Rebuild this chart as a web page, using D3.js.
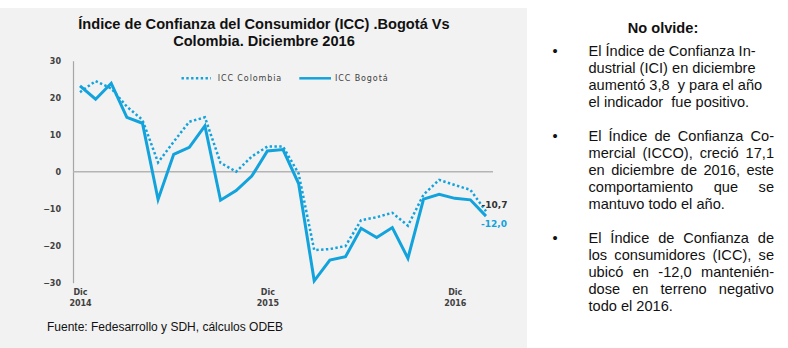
<!DOCTYPE html>
<html>
<head>
<meta charset="utf-8">
<script src="https://cdn.jsdelivr.net/npm/d3@7/dist/d3.min.js"></script>
<style>
  html, body { margin: 0; padding: 0; background: #ffffff; }
  svg { display: block; }
</style>
</head>
<body>
<script>
// ---------- DATA ----------
const months = ["Dic 2014","Ene 2015","Feb 2015","Mar 2015","Abr 2015","May 2015","Jun 2015","Jul 2015","Ago 2015","Sep 2015","Oct 2015","Nov 2015",
                "Dic 2015","Ene 2016","Feb 2016","Mar 2016","Abr 2016","May 2016","Jun 2016","Jul 2016","Ago 2016","Sep 2016","Oct 2016","Nov 2016",
                "Dic 2016","Ene 2017","Feb 2017"];
const iccBogota = [23.2, 19.6, 23.9, 14.7, 13.1, -7.5, 4.7, 6.6, 12.4, -7.7, -5.1, -1.2, 5.6, 6.0, -3.2,
                   -29.5, -23.9, -23.0, -15.3, -17.8, -15.1, -23.4, -7.4, -6.1, -7.2, -7.6, -12.0];
const iccColombia = [21.5, 24.5, 22.5, 17.6, 14.0, 2.5, 8.1, 13.5, 14.7, 2.4, 0.0, 4.1, 6.8, 6.8, -0.5,
                     -21.2, -20.9, -20.1, -13.1, -12.3, -11.1, -14.6, -6.2, -2.2, -3.6, -4.9, -10.7];
const yTicks = [-30, -20, -10, 0, 10, 20, 30];
const xTickCats = ["Dic 2014", "Dic 2015", "Dic 2016"];
const seriesNames = ["ICC Colombia", "ICC Bogotá"];
const endLabels = ["-10,7", "-12,0"];
const titleLines = ["Índice de Confianza del Consumidor (ICC) .Bogotá Vs", "Colombia. Diciembre 2016"];
const sourceText = "Fuente: Fedesarrollo y SDH, cálculos ODEB";
const noteTitle = "No olvide:";
const notes = [
  ["El Índice de Confianza In-", "dustrial (ICI) en diciembre", "aumentó 3,8  y para el año", "el indicador  fue positivo."],
  ["El Índice de Confianza Co-", "mercial (ICCO),  creció 17,1", "en diciembre de 2016, este", "comportamiento que se", "mantuvo todo el año."],
  ["El Índice de Confianza  de", "los consumidores (ICC), se", "ubicó en -12,0 mantenién-", "dose en terreno negativo", "todo el 2016."]
];

// ---------- SETUP ----------
const W = 788, H = 348;
const BLUE = "#12a2dc";
const svg = d3.select("body").append("svg").attr("width", W).attr("height", H);

svg.append("rect").attr("x", 0).attr("y", 8).attr("width", 527).attr("height", H - 8).attr("fill", "#f2f2f2");

const x = d3.scalePoint().domain(months).range([80, 486]);
const y = d3.scaleLinear().domain([-30, 30]).range([282.7, 60.7]);

// title
svg.append("g").selectAll("text").data(titleLines).join("text")
  .attr("x", 264).attr("y", (d, i) => 28.5 + i * 17)
  .attr("text-anchor", "middle")
  .style("font-family", "'Liberation Sans', Arial, sans-serif")
  .style("font-weight", "bold").style("font-size", "14.6px").attr("fill", "#111")
  .text(d => d);

// y axis
const yAxis = svg.append("g").attr("transform", "translate(73,0)")
  .call(d3.axisLeft(y).tickValues(yTicks).tickSize(0).tickPadding(12).tickFormat(d3.format("d")));
yAxis.select(".domain").attr("stroke", "#a6a6a6").attr("stroke-width", 1.2);
yAxis.selectAll("text")
  .style("font-family", "'DejaVu Sans', Verdana, sans-serif").style("font-size", "8px")
  .style("font-weight", "bold").attr("fill", "#404040");

// zero line
svg.append("line").attr("x1", 73).attr("x2", 493).attr("y1", y(0)).attr("y2", y(0))
  .attr("stroke", "#b4b4b4").attr("stroke-width", 1.5);

// x axis labels
const xAxis = svg.append("g").attr("transform", `translate(0,${y(-30)})`)
  .call(d3.axisBottom(x).tickValues(xTickCats).tickSize(0).tickPadding(0).tickFormat(() => ""));
xAxis.select(".domain").remove();
xAxis.selectAll(".tick").each(function(d) {
  const parts = d.split(" ");
  const g = d3.select(this);
  parts.forEach((p, i) => {
    g.append("text").attr("y", 12.5 + i * 10.5).attr("text-anchor", "middle")
      .style("font-family", "'DejaVu Sans', Verdana, sans-serif").style("font-size", "8px")
      .style("font-weight", "bold").attr("fill", "#404040").text(p);
  });
});

// lines
const line = d3.line().x((d, i) => x(months[i])).y(d => y(d));
svg.append("path").datum(iccColombia).attr("d", line).attr("fill", "none")
  .attr("stroke", BLUE).attr("stroke-width", 2.5).attr("stroke-dasharray", "2.4,2.4");
svg.append("path").datum(iccBogota).attr("d", line).attr("fill", "none")
  .attr("stroke", BLUE).attr("stroke-width", 3).attr("stroke-linejoin", "miter");

// legend
const legendFont = g => g.style("font-family", "'DejaVu Sans', Verdana, sans-serif")
  .style("font-size", "8px").style("letter-spacing", "0.9px").attr("fill", "#404040");
const lg = svg.append("g");
lg.append("line").attr("x1", 181.5).attr("x2", 211).attr("y1", 78.3).attr("y2", 78.3)
  .attr("stroke", BLUE).attr("stroke-width", 2.5).attr("stroke-dasharray", "2.4,2.4");
lg.append("text").attr("x", 217.7).attr("y", 81.2).text(seriesNames[0]).call(legendFont);
lg.append("line").attr("x1", 299.3).attr("x2", 331).attr("y1", 78.3).attr("y2", 78.3)
  .attr("stroke", BLUE).attr("stroke-width", 2.5);
lg.append("text").attr("x", 335).attr("y", 81.2).text(seriesNames[1]).call(legendFont);

// end labels
const lastCat = months[months.length - 1];
svg.append("text").attr("x", x(lastCat) - 4.5).attr("y", y(iccColombia[iccColombia.length - 1]) - 3.5)
  .style("font-family", "'DejaVu Sans', Verdana, sans-serif").style("font-size", "9px")
  .style("font-weight", "bold").attr("fill", "#333").text(endLabels[0]);
svg.append("text").attr("x", x(lastCat) - 5).attr("y", y(iccBogota[iccBogota.length - 1]) + 10.5)
  .style("font-family", "'DejaVu Sans', Verdana, sans-serif").style("font-size", "9px")
  .style("font-weight", "bold").attr("fill", BLUE).text(endLabels[1]);

// source
svg.append("text").attr("x", 47).attr("y", 330.5)
  .style("font-family", "'Liberation Sans', Arial, sans-serif").style("font-size", "12px")
  .attr("fill", "#111").text(sourceText);

// ---------- RIGHT NOTES ----------
const noteFont = "'Liberation Sans', Arial, sans-serif";
const noteSize = "14.6px";
svg.append("text").attr("x", 663).attr("y", 33).attr("text-anchor", "middle")
  .style("font-family", noteFont).style("font-weight", "bold").style("font-size", noteSize)
  .attr("fill", "#111").text(noteTitle);

const paraStart = [55.5, 141, 243];
const paraJustify = [false, true, true];
const LH = 17;
const textX = 588.5, textRight = 774;

function measure(str) {
  const t = svg.append("text").style("font-family", noteFont).style("font-size", noteSize)
    .style("white-space", "pre").text(str);
  const w = t.node().getComputedTextLength();
  t.remove();
  return w;
}

notes.forEach((lines, p) => {
  const y0 = paraStart[p];
  svg.append("text").attr("x", 555).attr("y", y0).attr("text-anchor", "middle")
    .style("font-family", noteFont).style("font-size", noteSize).attr("fill", "#111").text("•");
  lines.forEach((ln, i) => {
    const ly = y0 + i * LH;
    const isLast = i === lines.length - 1;
    if (paraJustify[p] && !isLast) {
      const words = ln.split(/\s+/);
      const widths = words.map(measure);
      const total = d3.sum(widths);
      const gap = (textRight - textX - total) / (words.length - 1);
      let cx = textX;
      const t = svg.append("text").attr("y", ly).style("font-family", noteFont)
        .style("font-size", noteSize).attr("fill", "#111");
      words.forEach((w, k) => {
        t.append("tspan").attr("x", cx).text(w);
        cx += widths[k] + gap;
      });
    } else {
      svg.append("text").attr("x", textX).attr("y", ly).style("font-family", noteFont)
        .style("font-size", noteSize).style("white-space", "pre").attr("fill", "#111").text(ln);
    }
  });
});
</script>
</body>
</html>
